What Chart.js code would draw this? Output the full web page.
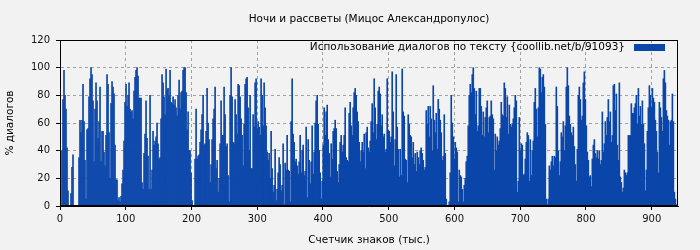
<!DOCTYPE html>
<html>
<head>
<meta charset="utf-8">
<script src="https://cdn.jsdelivr.net/npm/chart.js@4"></script>
<style>
  html, body { margin: 0; padding: 0; background: #f2f2f2; }
  #wrap { width: 700px; height: 250px; }
</style>
</head>
<body>
<div id="wrap"><canvas id="c" width="700" height="250"></canvas></div>
<script>
// Chart texts
const chartTitle = "Ночи и рассветы (Мицос Александропулос)";
const xTitle = "Счетчик знаков (тыс.)";
const yTitle = "% диалогов";
const seriesLabel = "Использование диалогов по тексту {coollib.net/b/91093}";

// Sampling step of the readings, in thousands of characters
const STEP = 1.522;

// Share of dialogue (%) left to right
const dialoguePct = [
  0,40,77,98,80,70,42,11,0,0, 9,28,37,0,0,0,0,0,35,62, 53,62,88,61,33,5,55,56,79,92,
  100,95,76,32,70,89,76,49,61,86, 32,54,54,39,29,51,95,88,53,20, 74,90,86,81,44,19,19,4,6,
  3,7,16,26,47,75,88,72,80,89, 70,68,69,63,83,93,98,100,94,78, 78,78,17,12,38,52,76,49,36,12,
  80,12,26,54,44,47,50,60,45,34, 35,63,95,89,79,66,99,84,85,80, 98,75,74,79,73,77,71,65,80,91,
  70,82,83,98,
  100,100,82,55,68,40,40,24,4,0, 0,34,70,34,36,37,46,55,66,80, 44,45,54,85,60,48,17,30,48,63,
  70,86,27,33,10,20,45,76,51,51, 86,66,43,45,22,3,80,100,79,46, 45,77,66,52,88,87,79,63,51,29,
  59,88,
  92,93,71,40,80,27,27,66,57,89, 92,56,61,57,51,92,80,58,89,71, 58,39,33,38,20,54,27,10,15,41,
  4,12,24,35,30,11,15,45,1,31, 26,51,26,25,3,61,92,52,46,32, 34,29,23,32,51,24,40,44,22,25,
  57,6,
  48,33,16,32,58,23,39,60,76,80, 59,40,24,5,18,44,71,51,68,73, 48,38,21,45,34,54,56,62,56,25,
  17,30,46,51,39,44,51,71,35,33, 32,67,75,58,51,71,82,85,80,68, 61,46,32,40,46,39,52,27,53,57,
  42,39,
  47,61,74,53,92,71,48,59,83,86, 81,58,66,50,52,39,41,92,55,54, 46,50,97,68,29,48,95,57,41,21,
  41,22,99,68,65,34,33,17,66,59, 51,50,35,46,30,38,25,39,35,30, 40,42,38,33,26,28,69,59,72,50,
  72,63,
  40,87,62,53,67,41,77,70,62,53, 33,36,66,38,5,0,0,3,24,80, 60,50,34,46,42,39,3,26,22,21,
  12,3,15,20,32,36,58,80,88,82, 95,100,85,66,83,54,58,85,85,72, 51,68,50,64,71,76,53,64,65,76,
  66,63,
  26,52,40,50,44,47,56,75,66,65, 89,85,64,79,52,73,59,57,59,63, 71,80,76,10,18,64,40,45,44,22,
  23,34,46,53,51,18,48,22,40,47, 75,85,70,50,71,100,99,82,93,95, 86,59,5,1,5,29,26,32,36,29,
  36,35,
  86,72,40,22,32,53,50,61,40,58, 86,100,87,65,59,53,51,57,43,30, 18,41,80,86,77,62,65,89,97,77,
  58,39,33,21,22,14,34,44,48,38, 35,40,34,40,30,33,68,39,45,61, 51,64,77,61,68,46,51,87,88,69,
  81,44,
  33,89,21,17,10,13,26,24,22,24, 51,51,51,74,67,67,71,74,80,59, 85,65,72,59,76,59,45,11,26,54,
  71,87,80,71,85,78,75,62,54,39, 24,75,71,64,54,92,98,89,69,65, 62,44,61,62,81,61,10,5,1,0
];

// Character counter (thousands) of each reading
const charCount = dialoguePct.map((_, i) => +((i + 1) * STEP).toFixed(2));

// Axis ranges / ticks
const xRange = [0, 940];
const xTickStep = 100;
const yRange = [0, 120];
const yTickStep = 20;

const FONT = "DejaVu Sans";
const BAR_COLOR = "#0b46aa";

const points = charCount.map((x, i) => ({ x: x, y: dialoguePct[i] }));

const decor = {
  id: "decor",
  beforeDraw(chart) {
    const ctx = chart.ctx;
    ctx.save();
    ctx.fillStyle = "#f2f2f2";
    ctx.fillRect(0, 0, chart.width, chart.height);
    ctx.restore();
  },
  afterDraw(chart) {
    const ctx = chart.ctx;
    const a = chart.chartArea;
    const cx = (a.left + a.right) / 2;
    ctx.save();
    // frame
    ctx.strokeStyle = "#000";
    ctx.lineWidth = 1;
    ctx.strokeRect(Math.round(a.left) + 0.5, Math.round(a.top) + 0.5,
                   Math.round(a.right - a.left) - 1, Math.round(a.bottom - a.top) - 1);
    ctx.fillStyle = "#000";
    ctx.font = "10.5px '" + FONT + "'";
    ctx.textBaseline = "middle";
    ctx.textAlign = "center";
    ctx.fillText(chartTitle, cx, 19);
    ctx.fillText(xTitle, cx, 240);
    ctx.save();
    ctx.translate(10, (a.top + a.bottom) / 2);
    ctx.rotate(-Math.PI / 2);
    ctx.fillText(yTitle, 0, 0);
    ctx.restore();
    // legend inside plot, top right
    ctx.textAlign = "right";
    ctx.fillText(seriesLabel, a.right - 53, a.top + 7);
    ctx.fillStyle = BAR_COLOR;
    ctx.fillRect(a.right - 44, a.top + 4, 31, 7);
    ctx.restore();
  }
};

new Chart(document.getElementById("c"), {
  type: "bar",
  data: {
    datasets: [{
      label: seriesLabel,
      data: points,
      backgroundColor: BAR_COLOR,
      borderWidth: 0,
      barPercentage: 1.0,
      categoryPercentage: 1.0
    }]
  },
  options: {
    responsive: false,
    animation: false,
    devicePixelRatio: 1,
    layout: { padding: { top: 40, right: 22, left: 0, bottom: 0 } },
    plugins: { legend: { display: false }, title: { display: false }, tooltip: { enabled: false } },
    scales: {
      x: {
        type: "linear",
        min: xRange[0], max: xRange[1],
        offset: false,
        afterFit(s) { s.height = 44; },
        ticks: { stepSize: xTickStep, includeBounds: false, color: "#111", font: { family: FONT, size: 10 }, padding: 3, maxRotation: 0 },
        grid: { offset: false, color: "#a0a0a0", tickColor: "#000", tickLength: 4, tickBorderDash: [], drawOnChartArea: true },
        border: { display: true, color: "#000", dash: [3, 3] }
      },
      y: {
        min: yRange[0], max: yRange[1],
        afterFit(s) { s.width = 60; },
        ticks: { stepSize: yTickStep, color: "#111", font: { family: FONT, size: 10 }, padding: 6 },
        grid: { color: "#a0a0a0", tickColor: "#000", tickLength: 4, tickBorderDash: [] },
        border: { display: true, color: "#000", dash: [3, 3] }
      }
    }
  },
  plugins: [decor]
});
</script>
</body>
</html>
